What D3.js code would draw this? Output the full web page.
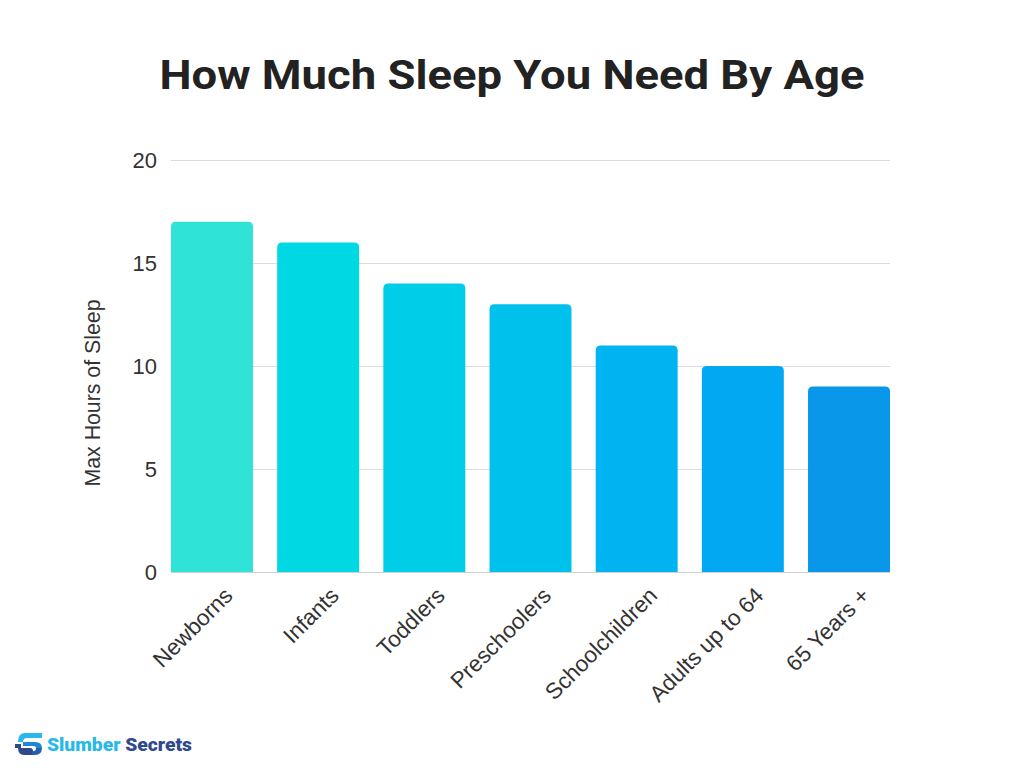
<!DOCTYPE html>
<html><head><meta charset="utf-8">
<script src="https://cdn.jsdelivr.net/npm/d3@7"></script>
<style>
html,body{margin:0;padding:0;background:#fff;}
svg{display:block;}
</style></head>
<body>
<svg id="chart" width="1024" height="768"></svg>
<script>
const categories = ["Newborns","Infants","Toddlers","Preschoolers","Schoolchildren","Adults up to 64","65 Years +"];
const maxHours = [17,16,14,13,11,10,9];
const barColors = ["#2FE3D6","#00D9E3","#00CDE8","#00C1EC","#00B3F1","#02A8F2","#0897E9"];
const yTicks = [0,5,10,15,20];
const title = "How Much Sleep You Need By Age";
const yLabel = "Max Hours of Sleep";

const svg = d3.select("#chart");
const plotLeft = 171, plotRight = 890, plotTop = 160, plotBottom = 572;

const x = d3.scaleBand().domain(categories).range([plotLeft,plotRight]).paddingInner(0.228).paddingOuter(0);
const y = d3.scaleLinear().domain([0,20]).range([plotBottom,plotTop]);

svg.append("text").attr("x",512).attr("y",89).attr("text-anchor","middle")
  .attr("font-family","Roboto, 'Liberation Sans', sans-serif").attr("font-weight","bold")
  .attr("font-size",41).attr("fill","#222").attr("textLength",705).attr("lengthAdjust","spacingAndGlyphs")
  .text(title);

// gridlines
svg.append("g").selectAll("line").data(yTicks).join("line")
  .attr("x1",plotLeft).attr("x2",plotRight).attr("y1",d=>y(d)+0.5).attr("y2",d=>y(d)+0.5)
  .attr("stroke",d=>d===0?"#cfcfcf":"#dcdcdc").attr("stroke-width",1);

// y tick labels
const yAxis = d3.axisLeft(y).tickValues(yTicks).tickSize(0).tickPadding(0);
const gy = svg.append("g").attr("transform",`translate(${157},0)`).call(yAxis);
gy.select(".domain").remove();
gy.selectAll("text").attr("font-family","'Liberation Sans', Arial, sans-serif").attr("font-size",22).attr("fill","#333").attr("dy","0.35em");

// bars with rounded tops
function barPath(x0,w,yTop,yBase,r){
  return `M${x0},${yBase}V${yTop+r}Q${x0},${yTop} ${x0+r},${yTop}H${x0+w-r}Q${x0+w},${yTop} ${x0+w},${yTop+r}V${yBase}Z`;
}
svg.append("g").selectAll("path").data(categories).join("path")
  .attr("d",(c,i)=>barPath(x(c),x.bandwidth(),y(maxHours[i]),y(0),5))
  .attr("fill",(c,i)=>barColors[i]);

// x labels
const xAxis = d3.axisBottom(x).tickSize(0).tickPadding(0);
const gx = svg.append("g").attr("transform",`translate(0,${plotBottom})`).call(xAxis);
gx.select(".domain").remove();
gx.selectAll("text")
  .attr("font-family","'Liberation Sans', Arial, sans-serif").attr("font-size",22.5).attr("fill","#333")
  .attr("text-anchor","end").attr("dy",null).attr("y",null)
  .attr("transform","translate(22,25) rotate(-45)");

// y axis label
svg.append("text").attr("transform","translate(100,393) rotate(-90)").attr("text-anchor","middle")
  .attr("font-family","'Liberation Sans', Arial, sans-serif").attr("font-size",21.3).attr("fill","#333")
  .text(yLabel);

// logo
const logo = svg.append("g").attr("transform","translate(15,733)");
logo.append("path").attr("d","M10,0H27V5H12Q8,5 8,9H3Q3,0 10,0Z").attr("fill","#29B8EA");
logo.append("path").attr("d","M8,9H20Q27,9 27,15H21Q21,13 18,13H8Z").attr("fill","#1E88D0");
logo.append("path").attr("d","M0,11H6V15H0Z").attr("fill","#2E4A8C");
logo.append("path").attr("d","M3,15H15Q18,15 18,18V22H9Q3,22 3,15Z").attr("fill","#2E4A8C");
logo.append("path").attr("d","M21,15H27Q27,22 20,22H17V18H19Q21,18 21,15Z").attr("fill","#2460A8");
const lt = svg.append("text").attr("x",47).attr("y",751)
  .attr("font-family","Roboto, 'Liberation Sans', sans-serif").attr("font-weight",900).attr("font-size",19)
  .attr("textLength",145).attr("lengthAdjust","spacingAndGlyphs");
lt.append("tspan").attr("fill","#29B8EA").text("Slumber ");
lt.append("tspan").attr("fill","#2E4A8C").text("Secrets");
</script>
</body></html>
